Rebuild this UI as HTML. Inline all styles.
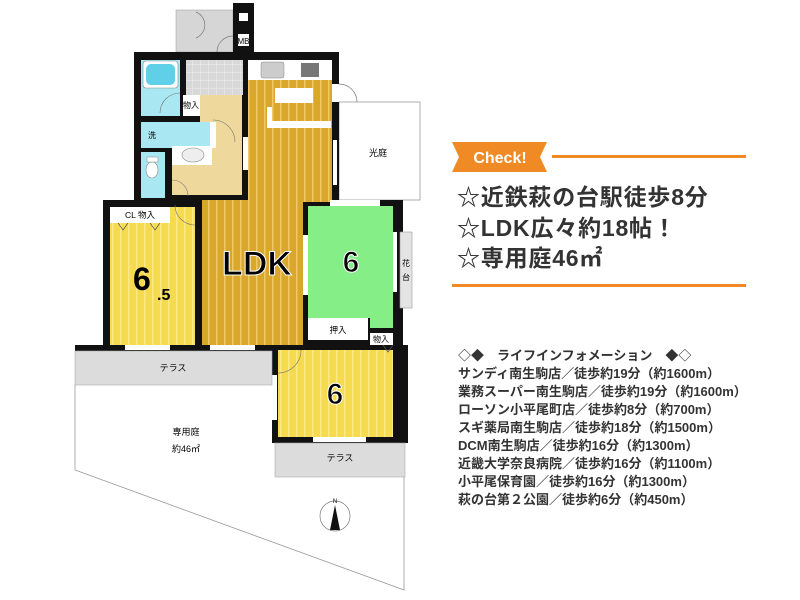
<!DOCTYPE html>
<html><head><meta charset="utf-8"><style>
html,body{margin:0;padding:0;background:#fff;width:800px;height:600px;overflow:hidden}
svg{display:block}
text{font-family:"Liberation Sans","Noto Sans CJK JP",sans-serif}
</style></head><body>
<svg width="800" height="600" viewBox="0 0 800 600" xmlns="http://www.w3.org/2000/svg">
<defs>
<pattern id="ldk" width="8" height="10" patternUnits="userSpaceOnUse"><rect width="8" height="10" fill="#d9a72c"/><rect width="1.5" height="10" fill="#f0c865"/></pattern>
<pattern id="yel" width="8" height="10" patternUnits="userSpaceOnUse"><rect width="8" height="10" fill="#f7db4e"/><rect width="1.5" height="10" fill="#fbe98a"/></pattern>
<pattern id="tile" width="8" height="8" patternUnits="userSpaceOnUse"><rect width="8" height="8" fill="#d8d8d8"/><path d="M0 0H8M0 0V8" stroke="#eee" stroke-width="1"/></pattern>
</defs>
<rect x="176" y="10" width="57" height="42" fill="#d6d6d6" stroke="#999" stroke-width="0.5"/>
<path d="M196 12 A14 14 0 0 1 196 38" fill="none" stroke="#777" stroke-width="0.7"/>
<path d="M233 36 A16 16 0 0 0 217 52" fill="none" stroke="#777" stroke-width="0.7"/>
<rect x="233" y="3" width="21" height="50" fill="#111"/>
<rect x="239" y="13" width="9" height="8" fill="#fff"/>
<rect x="238" y="34" width="11" height="12" fill="#fff"/>
<text x="243.5" y="44" font-size="8" text-anchor="middle" fill="#000">MB</text>
<rect x="339" y="102" width="81" height="98" fill="#fff" stroke="#999" stroke-width="0.8"/>
<path d="M339 84 A18 18 0 0 1 357 102" fill="none" stroke="#777" stroke-width="0.7"/>
<text x="378" y="156" font-size="9" text-anchor="middle" fill="#000">光庭</text>
<rect x="134" y="52" width="205" height="150" fill="#111"/>
<rect x="103" y="200" width="300" height="150" fill="#111"/>
<rect x="272" y="345" width="136" height="98" fill="#111"/>
<rect x="75" y="345" width="200" height="6" fill="#111"/>
<rect x="141" y="60" width="39" height="56" fill="#a9e8f2"/>
<rect x="143" y="61" width="35" height="27" rx="3" fill="#fff" stroke="#888" stroke-width="0.6"/>
<rect x="146" y="64" width="29" height="21" rx="5" fill="#5fd0e8"/>
<rect x="186" y="60" width="57" height="35" fill="url(#tile)"/>
<rect x="183" y="95" width="17" height="21" fill="#fff"/>
<text x="191" y="108" font-size="8" text-anchor="middle">物入</text>
<rect x="200" y="95" width="42" height="100" fill="#efd89c"/>
<rect x="172" y="165" width="70" height="30" fill="#efd89c"/>
<rect x="141" y="122" width="69" height="26" fill="#a9e8f2"/>
<text x="148" y="138" font-size="8">洗</text>
<rect x="210" y="122" width="6" height="26" fill="#fff"/>
<rect x="172" y="146" width="40" height="19" fill="#fff"/>
<ellipse cx="193" cy="155" rx="11" ry="7" fill="#eee" stroke="#888" stroke-width="0.6"/>
<rect x="141" y="152" width="24" height="46" fill="#a9e8f2"/>
<ellipse cx="152" cy="170" rx="6" ry="8" fill="#fff" stroke="#888" stroke-width="0.6"/>
<rect x="147" y="157" width="11" height="5" fill="#fff" stroke="#888" stroke-width="0.5"/>
<path d="M213 120 A22 22 0 0 1 235 142" fill="none" stroke="#777" stroke-width="0.6"/>
<path d="M160 113 A20 20 0 0 1 180 93" fill="none" stroke="#777" stroke-width="0.6"/>
<path d="M172 180 A16 16 0 0 1 188 196" fill="none" stroke="#777" stroke-width="0.6"/>
<rect x="248" y="60" width="84" height="20" fill="#fff"/>
<rect x="261" y="62" width="23" height="16" rx="2" fill="#ccc" stroke="#888" stroke-width="0.5"/>
<rect x="301" y="63" width="18" height="14" fill="#777"/>
<rect x="248" y="80" width="84" height="122" fill="url(#ldk)"/>
<rect x="202" y="200" width="101" height="145" fill="url(#ldk)"/>
<rect x="275" y="88" width="38" height="15" fill="#fff"/>
<path d="M267 107h5v14h59v7h-64z" fill="#fff"/>
<rect x="332" y="84" width="7" height="18" fill="#fff"/>
<rect x="333" y="140" width="4" height="45" fill="#fff"/>
<rect x="243" y="137" width="5" height="33" fill="#fff"/>
<text x="257" y="275" font-size="34" font-weight="bold" text-anchor="middle" fill="#000" stroke="#fff" stroke-width="1">LDK</text>
<rect x="110" y="207" width="60" height="16" fill="#fff"/>
<text x="140" y="218" font-size="8.5" text-anchor="middle">CL 物入</text>
<rect x="110" y="223" width="85" height="122" fill="url(#yel)"/>
<rect x="170" y="207" width="25" height="16" fill="url(#yel)"/>
<path d="M118 223l5 7 5-7M150 223l5 7 5-7" fill="none" stroke="#555" stroke-width="0.7"/>
<path d="M175 205 A20 20 0 0 0 195 225" fill="none" stroke="#777" stroke-width="0.6"/>
<text x="133" y="290" font-size="32" font-weight="bold" fill="#000">6</text>
<text x="157" y="300" font-size="16" font-weight="bold" fill="#000">.5</text>
<rect x="125" y="345" width="45" height="5" fill="#fff"/>
<rect x="210" y="345" width="45" height="5" fill="#fff"/>
<rect x="308" y="206" width="85" height="112" fill="#86ee86"/>
<rect x="370" y="318" width="23" height="10" fill="#86ee86"/>
<rect x="308" y="318" width="60" height="22" fill="#fff"/>
<text x="338" y="333" font-size="8.5" text-anchor="middle">押入</text>
<rect x="330" y="200" width="50" height="6" fill="#fff"/>
<rect x="303" y="235" width="5" height="60" fill="#fff"/>
<rect x="393" y="232" width="4" height="60" fill="#fff"/>
<rect x="400" y="232" width="12" height="76" fill="#e4e4e4" stroke="#999" stroke-width="0.6"/>
<text x="406" y="266" font-size="8" text-anchor="middle">花</text>
<text x="406" y="280" font-size="8" text-anchor="middle">台</text>
<text x="351" y="272" font-size="30" font-weight="bold" text-anchor="middle" fill="#000" stroke="#fff" stroke-width="1">6</text>
<rect x="278" y="350" width="115" height="87" fill="url(#yel)"/>
<rect x="370" y="333" width="23" height="12" fill="#fff"/>
<text x="381" y="342" font-size="8" text-anchor="middle">物入</text>
<path d="M383 345l5 7 5-7" fill="none" stroke="#555" stroke-width="0.7"/>
<path d="M278 373 A23 23 0 0 0 301 350" fill="none" stroke="#777" stroke-width="0.6"/>
<rect x="272" y="375" width="5" height="45" fill="#fff"/>
<rect x="313" y="437" width="53" height="5" fill="#fff"/>
<text x="335" y="404" font-size="30" font-weight="bold" text-anchor="middle" fill="#000" stroke="#fff" stroke-width="1">6</text>
<rect x="75" y="351" width="197" height="34" fill="#dcdcdc" stroke="#aaa" stroke-width="0.6"/>
<text x="173" y="371" font-size="9" text-anchor="middle">テラス</text>
<rect x="275" y="443" width="130" height="34" fill="#dcdcdc" stroke="#aaa" stroke-width="0.6"/>
<text x="340" y="461" font-size="9" text-anchor="middle">テラス</text>
<path d="M75 385V470L404 590V477" fill="none" stroke="#999" stroke-width="0.8"/>
<text x="186" y="435" font-size="9" text-anchor="middle">専用庭</text>
<text x="186" y="452" font-size="9" text-anchor="middle">約46㎡</text>
<circle cx="335" cy="516" r="15" fill="#fff" stroke="#777" stroke-width="0.7"/>
<path d="M335 505L330 530H340Z" fill="#111"/>
<text x="335" y="503" font-size="6" text-anchor="middle">N</text>
<path d="M452 142H547L540 157L547 172H452L459 157Z" fill="#f08a24"/>
<text x="500" y="163" font-size="16" font-weight="bold" text-anchor="middle" fill="#fff">Check!</text>
<rect x="552" y="155" width="194" height="3" fill="#f08a24"/>
<g font-size="23" font-weight="bold" fill="#333" letter-spacing="0.8">
<text x="457" y="205">☆近鉄萩の台駅徒歩8分</text>
<text x="457" y="236">☆LDK広々約18帖！</text>
<text x="457" y="266">☆専用庭46㎡</text>
</g>
<rect x="452" y="284" width="294" height="3" fill="#f08a24"/>
<g font-size="13" font-weight="bold" fill="#333">
<text x="458" y="360">◇◆　ライフインフォメーション　◆◇</text>
<text x="458" y="378">サンディ南生駒店／徒歩約19分（約1600m）</text>
<text x="458" y="396">業務スーパー南生駒店／徒歩約19分（約1600m）</text>
<text x="458" y="414">ローソン小平尾町店／徒歩約8分（約700m）</text>
<text x="458" y="432">スギ薬局南生駒店／徒歩約18分（約1500m）</text>
<text x="458" y="450">DCM南生駒店／徒歩約16分（約1300m）</text>
<text x="458" y="468">近畿大学奈良病院／徒歩約16分（約1100m）</text>
<text x="458" y="486">小平尾保育園／徒歩約16分（約1300m）</text>
<text x="458" y="504">萩の台第２公園／徒歩約6分（約450m）</text>
</g>
</svg>
</body></html>
